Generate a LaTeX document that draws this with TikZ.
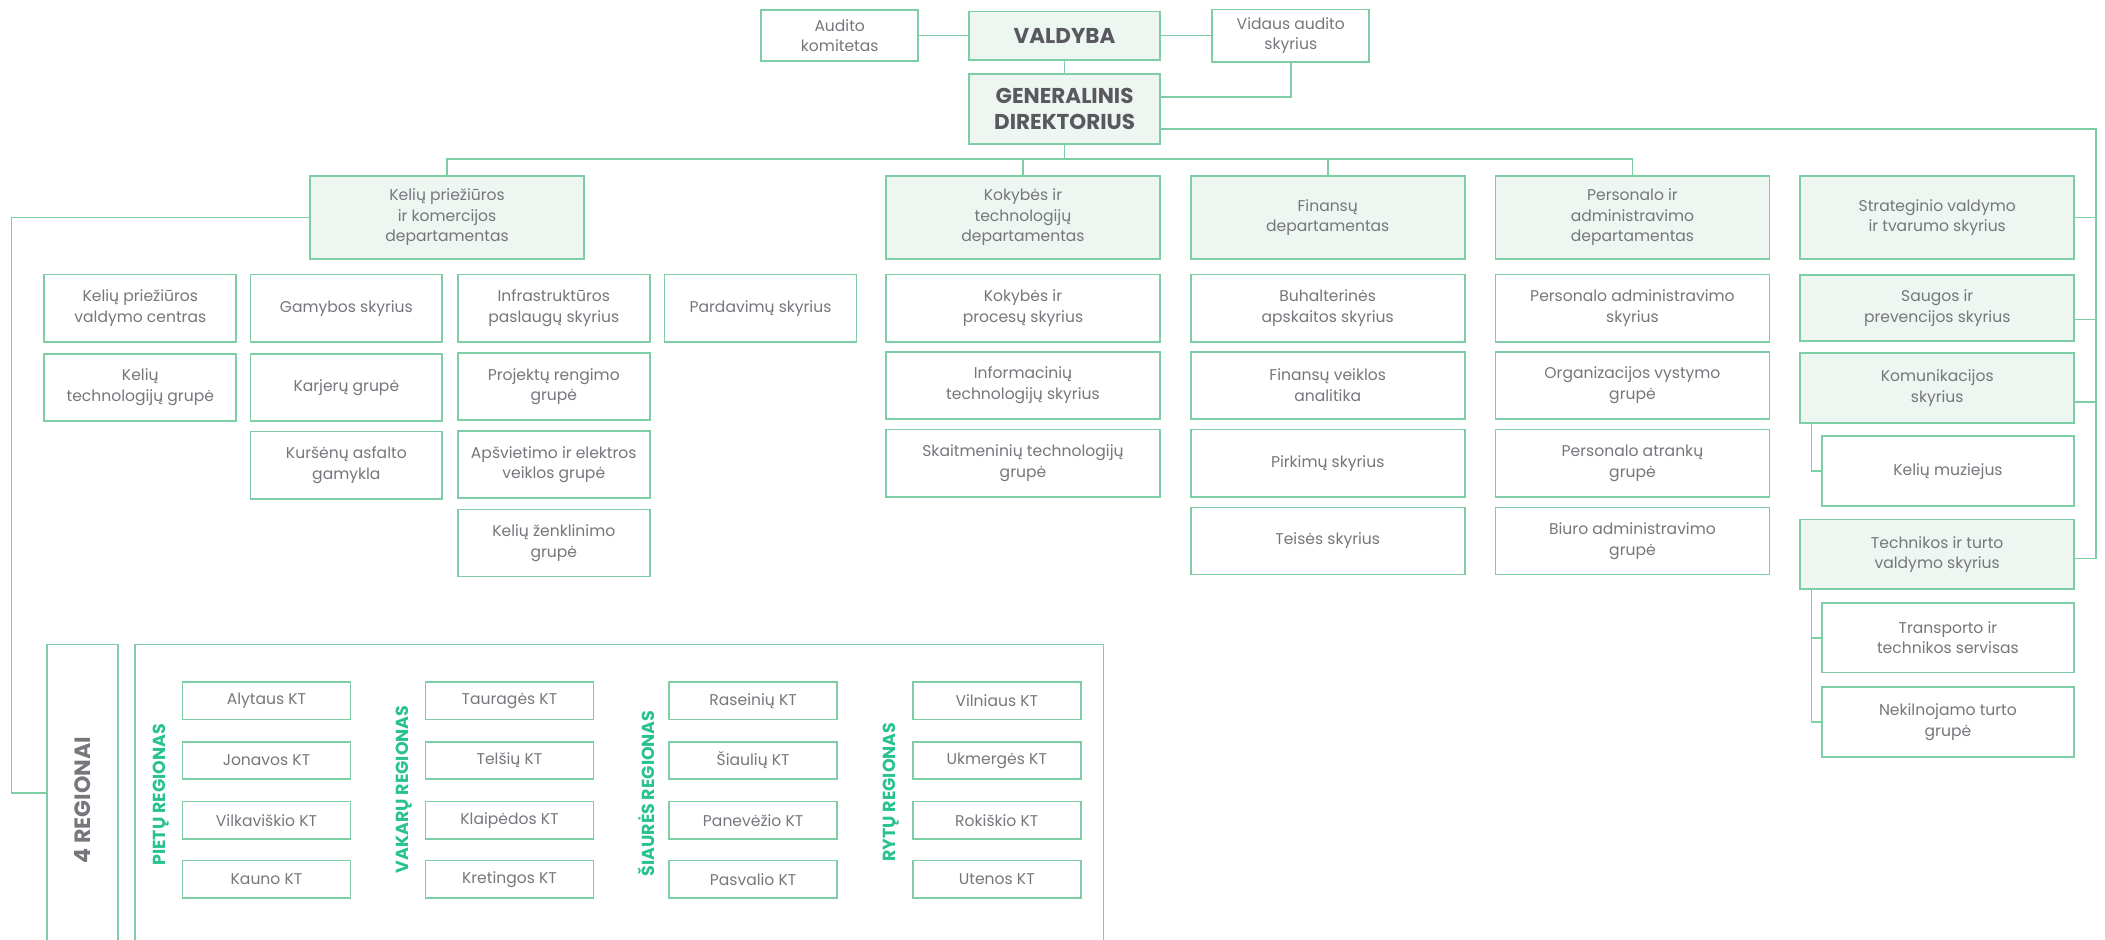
\documentclass[tikz,border=0pt]{standalone}
\usepackage{fontspec}
\setmainfont{Poppins}

\definecolor{lineGreen}{RGB}{125,205,165}
\definecolor{fillGreen}{RGB}{237,246,241}
\definecolor{txtGray}{RGB}{118,118,124}
\definecolor{headGray}{RGB}{88,88,94}
\definecolor{regGreen}{RGB}{40,195,140}

\tikzset{
  orgbox/.style={draw=lineGreen, line width=1.3pt, inner sep=2pt, align=center,
    text=txtGray, font=\fontsize{11.6}{15.2}\selectfont},
  deptbox/.style={orgbox, fill=fillGreen, minimum width=204pt, minimum height=62pt},
  unitbox/.style={orgbox, fill=white, minimum width=204pt, minimum height=50pt},
  smallbox/.style={orgbox, fill=white, minimum width=143pt, minimum height=50pt},
  ktbox/.style={orgbox, minimum width=125pt, minimum height=28pt},
  headbox/.style={orgbox, fill=fillGreen, text=headGray, minimum width=142pt,
    font=\bfseries\fontsize{16}{19.5}\selectfont},
  link/.style={draw=lineGreen, line width=1.3pt},
  reglabel/.style={rotate=90, text=regGreen, inner sep=0pt,
    font=\bfseries\fontsize{13}{15}\selectfont},
}

\begin{document}
\begin{tikzpicture}[x=1pt,y=-1pt]
  \useasboundingbox (0,0) rectangle (1568,700);
  \clip (0,0) rectangle (1568,700);

  % top of the chart
  \node[orgbox, minimum width=117pt, minimum height=38pt] (audit) at (625.5,26.5) {Audito\\komitetas};
  \node[headbox, minimum height=36pt] (valdyba) at (793,26.5) {VALDYBA};
  \node[orgbox, minimum width=117pt, minimum height=39pt] (vidaus) at (961.5,26.5) {Vidaus audito\\skyrius};
  \node[headbox, minimum height=52pt] (gd) at (793,81) {GENERALINIS\\DIREKTORIUS};

  \draw[link] (audit) -- (valdyba);
  \draw[link] (valdyba) -- (vidaus);
  \draw[link] (valdyba) -- (gd);
  \draw[link] (vidaus.south) |- ([yshift=9pt]gd.east);

  % departments
  \node[deptbox] (dkel) at (333,162) {Kelių priežiūros\\ir komercijos\\departamentas};
  \node[deptbox] (dkok) at (762,162) {Kokybės ir\\technologijų\\departamentas};
  \node[deptbox] (dfin) at (989,162) {Finansų\\departamentas};
  \node[deptbox] (dper) at (1216,162) {Personalo ir\\administravimo\\departamentas};
  \node[deptbox] (strat) at (1443,162) {Strateginio valdymo\\ir tvarumo skyrius};

  \path (gd.south) ++(0,-11pt) coordinate (bus);
  \draw[link] (gd.south) -- (bus);
  \draw[link] (dkel.north) |- (bus) -| (dper.north);
  \draw[link] (dkok.north) -- (dkok.north |- bus);
  \draw[link] (dfin.north) -- (dfin.north |- bus);

  % Keliu prieziuros ir komercijos departamentas
  \node[smallbox] (kvc) at (104.5,229.5) {Kelių priežiūros\\valdymo centras};
  \node[smallbox] (gam) at (258,229.5) {Gamybos skyrius};
  \node[smallbox] (inf) at (412.5,229.5) {Infrastruktūros\\paslaugų skyrius};
  \node[smallbox] (par) at (566.5,229.5) {Pardavimų skyrius};
  \node[smallbox] (ktg) at (104.5,288.5) {Kelių\\technologijų grupė};
  \node[smallbox] (kar) at (258,288.5) {Karjerų grupė};
  \node[smallbox] (prg) at (412.5,288) {Projektų rengimo\\grupė};
  \node[smallbox] (kag) at (258,346.5) {Kuršėnų asfalto\\gamykla};
  \node[smallbox] (aev) at (412.5,346) {Apšvietimo ir elektros\\veiklos grupė};
  \node[smallbox] (kzg) at (412.5,404.5) {Kelių ženklinimo\\grupė};

  % Kokybes ir technologiju departamentas
  \node[unitbox] (kps) at (762,229.5) {Kokybės ir\\procesų skyrius};
  \node[unitbox] (its) at (762,287) {Informacinių\\technologijų skyrius};
  \node[unitbox] (stg) at (762,345) {Skaitmeninių technologijų\\grupė};

  % Finansu departamentas
  \node[unitbox] (bas) at (989,229.5) {Buhalterinės\\apskaitos skyrius};
  \node[unitbox] (fva) at (989,287) {Finansų veiklos\\analitika};
  \node[unitbox] (pir) at (989,345) {Pirkimų skyrius};
  \node[unitbox] (tei) at (989,403) {Teisės skyrius};

  % Personalo ir administravimo departamentas
  \node[unitbox] (pas) at (1216,229.5) {Personalo administravimo\\skyrius};
  \node[unitbox] (ovg) at (1216,287) {Organizacijos vystymo\\grupė};
  \node[unitbox] (pag) at (1216,345) {Personalo atrankų\\grupė};
  \node[unitbox] (bag) at (1216,403) {Biuro administravimo\\grupė};

  % right column
  \node[deptbox, minimum height=49pt] (saugos) at (1443,229.5) {Saugos ir\\prevencijos skyrius};
  \node[deptbox, minimum height=52pt] (komunik) at (1443,289) {Komunikacijos\\skyrius};
  \node[unitbox, minimum width=188pt, minimum height=52pt] (muziejus) at (1451,351) {Kelių muziejus};
  \node[deptbox, minimum height=52pt] (technikos) at (1443,413) {Technikos ir turto\\valdymo skyrius};
  \node[unitbox, minimum width=188pt, minimum height=52pt] (transp) at (1451,475) {Transporto ir\\technikos servisas};
  \node[unitbox, minimum width=188pt, minimum height=52pt] (nekiln) at (1451,538) {Nekilnojamo turto\\grupė};

  \coordinate (rtop) at (1561,96);
  \draw[link] ([yshift=-15pt]gd.east) -- (rtop) |- ([yshift=-3pt]technikos.east);
  \draw[link] (rtop) |- (strat.east);
  \draw[link] (rtop) |- ([yshift=-8.5pt]saugos.east);
  \draw[link] (rtop) |- ([yshift=-10.5pt]komunik.east);
  \draw[link] ([xshift=9pt]komunik.south west) |- (muziejus.west);
  \draw[link] ([xshift=9pt]technikos.south west) |- (transp.west);
  \draw[link] ([xshift=9pt]technikos.south west) |- (nekiln.west);

  % regions
  \node[orgbox, rotate=90, minimum width=232pt, minimum height=53pt, text=txtGray,
    font=\bfseries\fontsize{16.5}{19}\selectfont] (regionai) at (61.5,596) {4 REGIONAI};
  \node[orgbox, minimum width=721.5pt, minimum height=232pt] (rgbox) at (461.25,596) {};

  \coordinate (lcorner) at (8.5,590.5);
  \draw[link] (dkel.west) -| (lcorner) -- (lcorner -| regionai.north);

  \node[reglabel] (lpiet) at (119.7,592) {PIETŲ REGIONAS};
  \node[ktbox] (alyt) at (198.5,522) {Alytaus KT};
  \node[ktbox] (jona) at (198.5,566.5) {Jonavos KT};
  \node[ktbox] (vilk) at (198.5,611) {Vilkaviškio KT};
  \node[ktbox] (kaun) at (198.5,655) {Kauno KT};

  \node[reglabel] (lvak) at (301,588) {VAKARŲ REGIONAS};
  \node[ktbox] (taur) at (379.5,522) {Tauragės KT};
  \node[ktbox] (tels) at (379.5,566.5) {Telšių KT};
  \node[ktbox] (klai) at (379.5,611) {Klaipėdos KT};
  \node[ktbox] (kret) at (379.5,655) {Kretingos KT};

  \node[reglabel] (lsiau) at (481.5,591) {ŠIAURĖS REGIONAS};
  \node[ktbox] (rase) at (561,522) {Raseinių KT};
  \node[ktbox] (siau) at (561,566.5) {Šiaulių KT};
  \node[ktbox] (pane) at (561,611) {Panevėžio KT};
  \node[ktbox] (pasv) at (561,655) {Pasvalio KT};

  \node[reglabel] (lryt) at (663.7,590) {RYTŲ REGIONAS};
  \node[ktbox] (viln) at (742.5,522) {Vilniaus KT};
  \node[ktbox] (ukme) at (742.5,566.5) {Ukmergės KT};
  \node[ktbox] (roki) at (742.5,611) {Rokiškio KT};
  \node[ktbox] (uten) at (742.5,655) {Utenos KT};
\end{tikzpicture}
\end{document}
